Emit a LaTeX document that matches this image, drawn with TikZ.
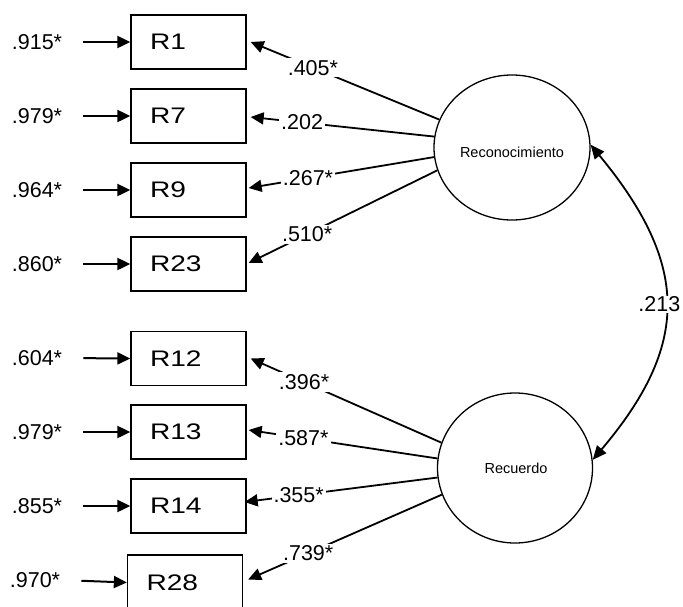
\documentclass[tikz,border=0pt]{standalone}
\usepackage{fontspec}
\usepackage{graphicx}
\setmainfont{Liberation Sans}
\usetikzlibrary{arrows.meta,shapes.geometric}
\newcommand\boxtxt[1]{\scalebox{1.25}[1]{#1}}
\begin{document}
\begin{tikzpicture}[x=1pt,y=-1pt,
  box/.style={draw, line width=1.3pt, minimum height=54pt, text width=77pt, inner xsep=19pt, inner ysep=0pt, align=left, font=\fontsize{22.5}{26}\selectfont},
  factor/.style={draw, ellipse, line width=1.3pt, inner sep=0pt},
  lab/.style={font=\fontsize{21.5}{25}\selectfont, inner sep=1pt},
  llab/.style={font=\fontsize{21.5}{25}\selectfont, fill=white, inner sep=2pt},
  err/.style={line width=2pt, -{Triangle[length=13pt,width=12pt]}, shorten <=20pt},
  load/.style={line width=1.8pt, -{Triangle[length=13pt,width=12pt]}},
]
\clip (0,0) rectangle (683,606);
\fill[white] (0,0) rectangle (683,606);

% indicator boxes
\node[box] (R1)  at (188.5,42)  {\boxtxt{R1}};
\node[box] (R7)  at (188.5,116) {\boxtxt{R7}};
\node[box] (R9)  at (188.5,190) {\boxtxt{R9}};
\node[box] (R23) at (188.5,264) {\boxtxt{R23}};
\node[box] (R12) at (188.5,358.5) {\boxtxt{R12}};
\node[box] (R13) at (188.5,432) {\boxtxt{R13}};
\node[box] (R14) at (188.5,506) {\boxtxt{R14}};
\node[box, minimum height=55pt] (R28) at (185,582.5) {\boxtxt{R28}};

% error labels
\node[lab] (e1)  at (37,42)  {.915*};
\node[lab] (e7)  at (37,116) {.979*};
\node[lab] (e9)  at (37,190) {.964*};
\node[lab] (e23) at (37,264) {.860*};
\node[lab] (e12) at (37,358) {.604*};
\node[lab] (e13) at (37,432) {.979*};
\node[lab] (e14) at (37,506) {.855*};
\node[lab] (e28) at (35,580) {.970*};

\foreach \e/\r in {e1/R1,e7/R7,e9/R9,e23/R23,e12/R12,e13/R13,e14/R14,e28/R28}
  \draw[err] (\e.east) -- (\r.west);

% factors
\node[factor, minimum width=156pt, minimum height=145pt] (F1) at (512,147.5) {};
\node[font=\fontsize{14.5}{17}\selectfont] (F1t) at (512,152) {Reconocimiento};
\node[factor, minimum width=155pt, minimum height=150pt] (F2) at (515,468) {};
\node[font=\fontsize{14.5}{17}\selectfont] (F2t) at (516,468) {Recuerdo};

% loadings
\draw[load] (F1.159) -- node[llab, pos=0.67] {.405*} ([xshift=4pt,yshift=0pt]R1.east);
\draw[load] (F1.172) -- node[llab, pos=0.72] {.202} ([xshift=4pt,yshift=-1pt]R7.east);
\draw[load] (F1.187) -- node[llab, pos=0.68] {.267*} ([xshift=2pt,yshift=2pt]R9.east);
\draw[load] (F1.197) -- node[llab, pos=0.69] {.510*} ([xshift=2pt,yshift=1pt]R23.east);

\draw[load] (F2.161) -- node[llab, pos=0.72] {.396*} ([xshift=4pt]R12.east);
\draw[load] (F2.173) -- node[llab, pos=0.71] {.587*} ([xshift=2pt,yshift=2pt]R13.east);
\draw[load] (F2.187) -- node[llab, pos=0.72] {.355*} ([xshift=-2pt,yshift=4pt]R14.east);
\draw[load] (F2.200) -- node[llab, pos=0.69] {.739*} ([xshift=5pt,yshift=3pt]R28.east);

% correlation
\draw[line width=1.8pt, {Triangle[length=14pt,width=12pt]}-{Triangle[length=14pt,width=12pt]}]
  (F1.2) .. controls (690,265) and (690,345) .. node[llab, pos=0.5, xshift=-6pt, inner sep=1pt] {.213} (F2.6);
\end{tikzpicture}
\end{document}
